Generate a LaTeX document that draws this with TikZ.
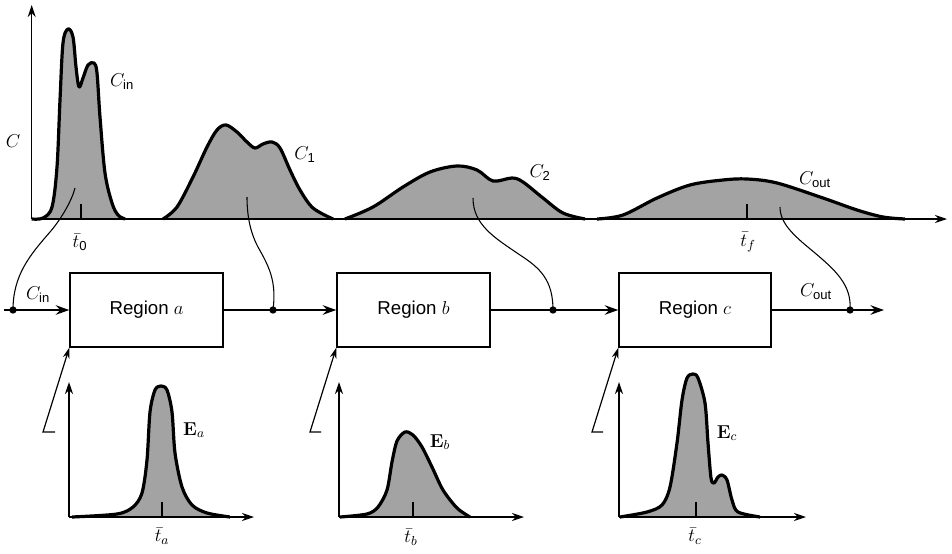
\RequirePackage{fix-cm}
\documentclass[tikz,border=0pt]{standalone}
\usepackage{amsmath}
\usepackage[no-math]{fontspec}
\setmainfont{Liberation Sans}
\setsansfont{Liberation Sans}
\usetikzlibrary{arrows.meta}
\begin{document}
\begin{tikzpicture}[x=0.75pt,y=-0.75pt,
  every node/.style={font=\fontsize{14}{16}\selectfont},
  axis/.style={line width=1.1pt,-{Stealth[length=9pt,width=6pt]}},
  curvel/.style={line width=2.4pt,line join=round},
  shadefill/.style={fill=black!36},
  thinc/.style={line width=0.8pt},
  flow/.style={line width=1.8pt,-{Stealth[length=10pt,width=7pt]}},
  regbox/.style={draw,line width=1.1pt,minimum width=114.75pt,minimum height=55.5pt,inner sep=0pt},
  dotn/.style={circle,fill,inner sep=0pt,minimum size=5.5pt},
  tickm/.style={line width=1.1pt},
  ptr/.style={line width=0.9pt,-{Stealth[length=8pt,width=5pt]}},
  lbl/.style={inner sep=0.5pt}]
\useasboundingbox (0,0) rectangle (952,553);

% ---------- top plot ----------
\def\cin{(31.7,219) (43,218) (52,207) (57,167) (60,100) (63,43) (68,29) (73,37) (76,67) (79,87) (83,78) (88,65) (94,63) (97,73) (100,117) (105,173) (112,203) (118,215) (125,219)}
\def\cone{(163,219) (177,207) (193,177) (207,147) (217,130) (226,125) (237,132) (247,142) (255,148) (263,144) (272,142) (280,148) (290,170) (300,190) (313,208) (333,219)}
\def\ctwo{(345,219) (373,207) (403,187) (430,172) (457,166) (477,170) (493,181) (512,178) (523,182) (543,198) (563,213) (585,219)}
\def\cout{(597,219) (623,215) (657,198) (690,185) (723,180) (747,179) (777,183) (823,198) (857,210) (883,217) (905,219)}
\foreach \pts in {\cin,\cone,\ctwo,\cout}{
  \fill[shadefill] plot[smooth,tension=0.55] coordinates {\pts} -- cycle;
  \draw[curvel] plot[smooth,tension=0.55] coordinates {\pts};
}
\coordinate (o) at (31.7,219);
\coordinate (ytop) at (31.7,5);
\coordinate (xend) at (947,219);
\draw[axis] (o) -- (ytop);
\draw[axis] (o) -- (xend);
\coordinate (t0a) at (81,219); \coordinate (t0b) at (81,204);
\draw[tickm] (t0a) -- (t0b);
\coordinate (tfa) at (747,219); \coordinate (tfb) at (747,204);
\draw[tickm] (tfa) -- (tfb);
\node[lbl] (lC) at (13,141) {$C$};
\node[lbl] (lcin) at (122,82) {$C_{\textsf{in}}$};
\node[lbl] (lc1) at (305,155) {$C_{\textsf{1}}$};
\node[lbl] (lc2) at (540,173) {$C_{\textsf{2}}$};
\node[lbl] (lcout) at (815,180) {$C_{\textsf{out}}$};
\node[lbl] (lt0) at (80,242) {$\bar{t}_{\textsf{0}}$};
\node[lbl] (ltf) at (748,242) {$\bar{t}_f$};

% ---------- middle row ----------
\node[regbox] (ra) at (146.5,310) {Region $a$};
\node[regbox] (rb) at (413.5,310) {Region $b$};
\node[regbox,minimum width=114pt] (rc) at (695,310) {Region $c$};
\coordinate (fin) at (4,310);
\coordinate (fout) at (884,310);
\draw[flow] (fin) -- (ra.west);
\draw[flow] (ra.east) -- (rb.west);
\draw[flow] (rb.east) -- (rc.west);
\draw[flow] (rc.east) -- (fout);
\node[dotn] (d1) at (13,310) {};
\node[dotn] (d2) at (273,310) {};
\node[dotn] (d3) at (553,310) {};
\node[dotn] (d4) at (850,310) {};
\node[lbl] (lfin) at (38,295) {$C_{\textsf{in}}$};
\node[lbl] (lfout) at (816,292) {$C_{\textsf{out}}$};

\coordinate (p1) at (75,188);
\coordinate (p2) at (247,197);
\coordinate (p3) at (473,198);
\coordinate (p4) at (780,207);
\draw[thinc] (d1.center) .. controls (13,275) and (30,255) .. (50,232) .. controls (62,218) and (72,200) .. (p1);
\draw[thinc] (d2.center) .. controls (277,280) and (268,265) .. (258,247) .. controls (250,232) and (247,215) .. (p2);
\draw[thinc] (d3.center) .. controls (553,280) and (540,268) .. (520,255) .. controls (495,238) and (473,225) .. (p3);
\draw[thinc] (d4.center) .. controls (852,285) and (835,270) .. (815,253) .. controls (797,238) and (780,225) .. (p4);

% pointers
\coordinate (pa1) at (55,432); \coordinate (pa2) at (43,432);
\coordinate (pb1) at (321,432); \coordinate (pb2) at (310,432);
\coordinate (pc1) at (603,432); \coordinate (pc2) at (592,432);
\draw[ptr] (pa1) -- (pa2) -- (ra.south west);
\draw[ptr] (pb1) -- (pb2) -- (rb.south west);
\draw[ptr] (pc1) -- (pc2) -- (rc.south west);

% ---------- bottom plots ----------
\def\ea{(72,517) (117,514) (133,507) (142,493) (147,460) (150,412) (155,390) (161,386) (167,390) (172,412) (175,453) (182,487) (192,505) (207,513) (230,517)}
\def\eb{(340,517) (367,514) (378,507) (387,490) (392,462) (397,441) (405,432) (413,435) (422,447) (432,467) (443,490) (457,508) (470,517)}
\def\ec{(620,517) (647,512) (662,505) (670,487) (677,443) (682,400) (687,378) (693,374) (698,378) (705,403) (708,443) (711,478) (714,483) (718,477) (722,475) (727,480) (732,500) (738,512) (760,517)}
\foreach \pts in {\ea,\eb,\ec}{
  \fill[shadefill] plot[smooth,tension=0.5] coordinates {\pts} -- cycle;
  \draw[curvel] plot[smooth,tension=0.5] coordinates {\pts};
}
\coordinate (oa) at (69,517); \coordinate (ya) at (69,382); \coordinate (xa) at (254,517);
\coordinate (ob) at (339,517); \coordinate (yb) at (339,382); \coordinate (xb) at (524,517);
\coordinate (oc) at (619,517); \coordinate (yc) at (619,382); \coordinate (xc) at (806,517);
\draw[axis] (oa) -- (ya); \draw[axis] (oa) -- (xa);
\draw[axis] (ob) -- (yb); \draw[axis] (ob) -- (xb);
\draw[axis] (oc) -- (yc); \draw[axis] (oc) -- (xc);
\coordinate (taa) at (162,517); \coordinate (tab) at (162,502);
\coordinate (tba) at (413,517); \coordinate (tbb) at (413,502);
\coordinate (tca) at (696,517); \coordinate (tcb) at (696,502);
\draw[tickm] (taa) -- (tab);
\draw[tickm] (tba) -- (tbb);
\draw[tickm] (tca) -- (tcb);
\node[lbl] (lea) at (194,430) {$\mathbf{E}_a$};
\node[lbl] (leb) at (440,442) {$\mathbf{E}_b$};
\node[lbl] (lec) at (727,433) {$\mathbf{E}_c$};
\node[lbl] (lta) at (162,536) {$\bar{t}_a$};
\node[lbl] (ltb) at (411,537) {$\bar{t}_b$};
\node[lbl] (ltc) at (695,536) {$\bar{t}_c$};
\end{tikzpicture}
\end{document}
